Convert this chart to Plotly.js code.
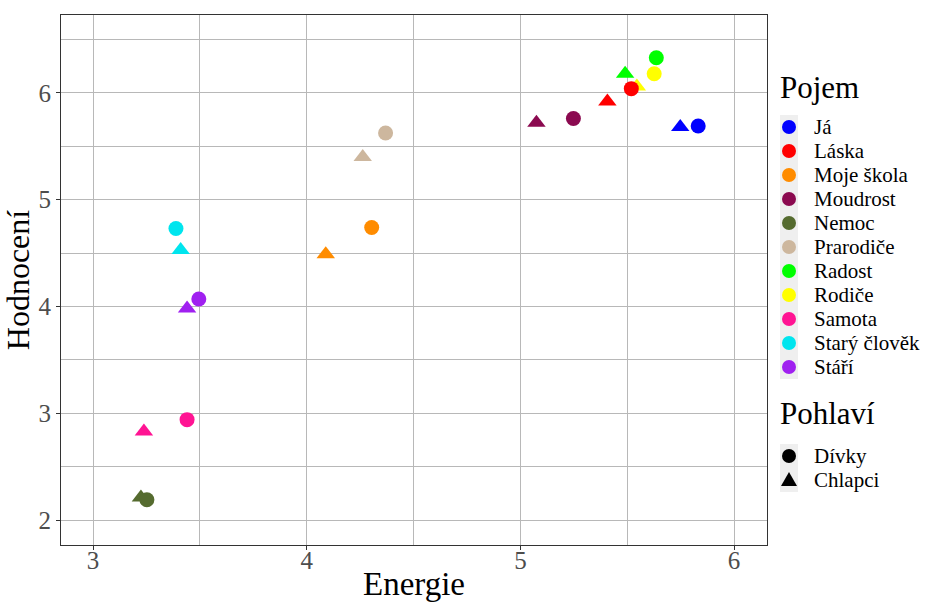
<!DOCTYPE html>
<html>
<head>
<meta charset="utf-8">
<script src="https://cdn.plot.ly/plotly-3.0.1.min.js"></script>
<style>html,body{margin:0;padding:0;background:#fff;}#chart{width:951px;height:602px;}</style>
</head>
<body>
<div id="chart"></div>
<script>
const concepts = ["Já","Láska","Moje škola","Moudrost","Nemoc","Prarodiče","Radost","Rodiče","Samota","Starý člověk","Stáří"];
const colors = ["#0000FF","#FF0000","#FF8C00","#8B0A50","#556B2F","#CDB79E","#00FF00","#FFFF00","#FF1493","#00E5EE","#A020F0"];
// Dívky (circles)
const girlsEnergy = [5.832,5.519,4.304,5.248,3.252,4.369,5.636,5.626,3.440,3.388,3.495];
const girlsRating = [5.69,6.04,4.74,5.76,2.19,5.625,6.33,6.18,2.94,4.73,4.07];
// Chlapci (triangles)
const boysEnergy = [5.748,5.407,4.089,5.075,3.224,4.262,5.490,5.545,3.238,3.410,3.440];
const boysRating = [5.68,5.92,4.49,5.72,2.21,5.40,6.18,6.06,2.83,4.53,3.98];
const genders = ["Dívky","Chlapci"];
const genderSymbols = ["circle","triangle"];
const colorTitle = "Pojem";
const shapeTitle = "Pohlaví";

const serif = "Liberation Serif, Times New Roman, serif";
const W = 951, H = 602, M = {l:61, r:184, t:15, b:57};
const pw = W - M.l - M.r, ph = H - M.t - M.b;
const px2x = px => (px - M.l) / pw;
const px2y = py => 1 - (py - M.t) / ph;

const traces = [];
traces.push({type:"scatter",mode:"markers",x:boysEnergy,y:boysRating,showlegend:false,hoverinfo:"skip",
  marker:{symbol:"triangle-up",size:16,color:colors,line:{width:0}}});
traces.push({type:"scatter",mode:"markers",x:girlsEnergy,y:girlsRating,showlegend:false,hoverinfo:"skip",
  marker:{symbol:"circle",size:15,color:colors,line:{width:0}}});

// manual ggplot-style legends
const annotations = [];
const shapes = [];
const keyX = 789, textX = 813, itemFont = 21, titleFont = 31;
const item0 = 127, step = 24;
annotations.push({xref:"paper",yref:"paper",x:px2x(779),y:px2y(88),xanchor:"left",yanchor:"middle",borderpad:0,
  text:colorTitle,showarrow:false,font:{family:serif,size:titleFont,color:"#000"}});
shapes.push({type:"rect",xref:"paper",yref:"paper",x0:px2x(780),x1:px2x(798),
  y0:px2y(item0-step/2),y1:px2y(item0+step*(concepts.length-0.5)),fillcolor:"#EFEFEF",line:{width:0},layer:"below"});
concepts.forEach((c,i)=>{
  const yy = item0 + step*i;
  annotations.push({xref:"paper",yref:"paper",x:px2x(textX),y:px2y(yy),xanchor:"left",yanchor:"middle",borderpad:0,
    text:c,showarrow:false,font:{family:serif,size:itemFont,color:"#000"}});
  shapes.push({type:"circle",xref:"paper",yref:"paper",xsizemode:"pixel",ysizemode:"pixel",
    xanchor:px2x(keyX),yanchor:px2y(yy),x0:-7,x1:7,y0:-7,y1:7,fillcolor:colors[i],line:{width:0}});
});
const g0 = 456, gstep = 24;
annotations.push({xref:"paper",yref:"paper",x:px2x(779),y:px2y(413),xanchor:"left",yanchor:"middle",borderpad:0,
  text:shapeTitle,showarrow:false,font:{family:serif,size:titleFont,color:"#000"}});
shapes.push({type:"rect",xref:"paper",yref:"paper",x0:px2x(780),x1:px2x(798),
  y0:px2y(g0-gstep/2),y1:px2y(g0+gstep*(genders.length-0.5)),fillcolor:"#EFEFEF",line:{width:0},layer:"below"});
genders.forEach((g,i)=>{
  const yy = g0 + gstep*i;
  annotations.push({xref:"paper",yref:"paper",x:px2x(textX),y:px2y(yy),xanchor:"left",yanchor:"middle",borderpad:0,
    text:g,showarrow:false,font:{family:serif,size:itemFont,color:"#000"}});
  if (genderSymbols[i] === "circle") {
    shapes.push({type:"circle",xref:"paper",yref:"paper",xsizemode:"pixel",ysizemode:"pixel",
      xanchor:px2x(keyX),yanchor:px2y(yy),x0:-7,x1:7,y0:-7,y1:7,fillcolor:"#000",line:{width:0}});
  } else {
    shapes.push({type:"path",xref:"paper",yref:"paper",xsizemode:"pixel",ysizemode:"pixel",
      xanchor:px2x(keyX),yanchor:px2y(yy),path:"M -8 -6 L 8 -6 L 0 8 Z",fillcolor:"#000",line:{width:0}});
  }
});

const gridc = "#B8B8B8";
const axisCommon = {dtick:1,tick0:0,showgrid:true,gridcolor:gridc,gridwidth:1,zeroline:false,
  showline:true,mirror:true,linecolor:"#333",linewidth:1,ticks:"outside",ticklen:4,tickcolor:"#333",
  tickfont:{family:serif,size:25,color:"#4D4D4D"},
  minor:{dtick:0.5,tick0:0,showgrid:true,gridcolor:gridc,gridwidth:1,ticks:""}};
const layout = {
  width:W,height:H,
  margin:M,
  paper_bgcolor:"#fff",plot_bgcolor:"#fff",
  font:{family:serif,color:"#000"},
  showlegend:false,
  xaxis:Object.assign({},axisCommon,{range:[2.85,6.154],ticklabelstandoff:-11,
    title:{text:"Energie",font:{family:serif,size:33,color:"#000"},standoff:0}}),
  yaxis:Object.assign({},axisCommon,{range:[1.766,6.73],
    title:{text:"Hodnocení",font:{family:serif,size:32,color:"#000"},standoff:0}}),
  annotations:annotations,
  shapes:shapes
};
Plotly.newPlot("chart",traces,layout,{displayModeBar:false,staticPlot:true});
</script>
</body>
</html>
